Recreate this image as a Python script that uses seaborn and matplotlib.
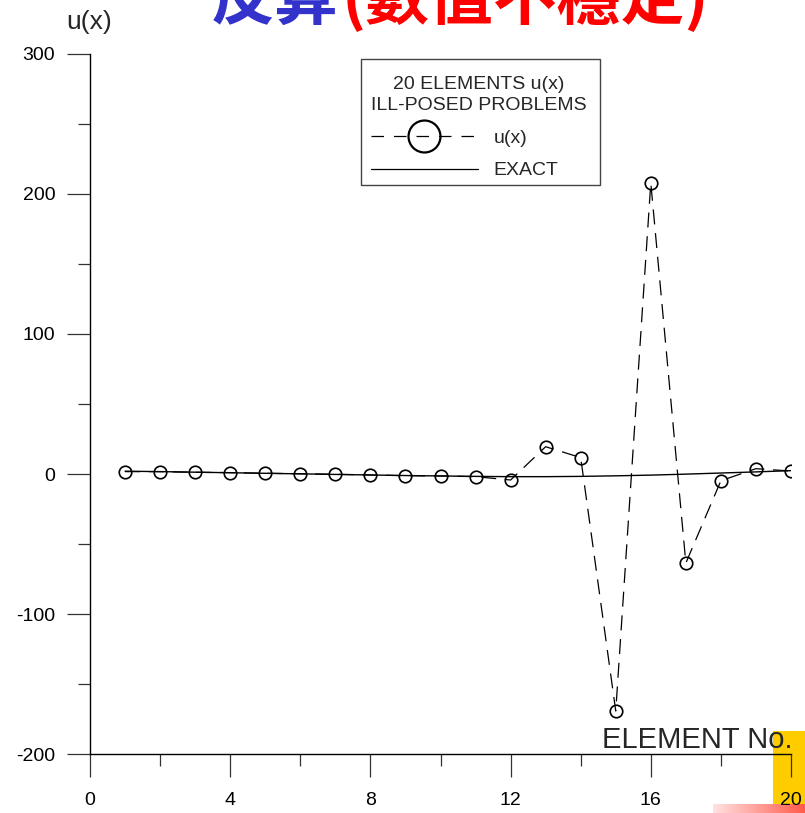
import numpy as np
import pandas as pd
import matplotlib
matplotlib.use("Agg")
import matplotlib.pyplot as plt
import seaborn as sns
from matplotlib.lines import Line2D
from matplotlib.patches import Rectangle
from matplotlib.colors import LinearSegmentedColormap

# ---------------- data ----------------
elements = list(range(1, 21))
u_numeric = [1.7, 1.7, 1.2, 1.0, 0.5, 0.2, -0.2, -0.7, -1.2, -1.4,
             -1.9, -4.3, 19.5, 11.7, -169.3, 207.9, -63.6, -4.8, 3.8, 2.1]
u_exact = [2.0, 1.7, 1.3, 0.9, 0.5, 0.1, -0.3, -0.7, -1.1, -1.4,
           -1.7, -1.9, -1.9, -1.7, -1.3, -0.8, -0.1, 0.7, 1.5, 2.4]
x_major_ticks = [0, 4, 8, 12, 16, 20]
y_major_ticks = [-200, -100, 0, 100, 200, 300]
title_blue = "反算"
title_red = "(數值不穩定)"
legend_title = "20 ELEMENTS u(x)\nILL-POSED PROBLEMS"
legend_labels = ["u(x)", "EXACT"]
x_label = "ELEMENT No."
y_label = "u(x)"

df = pd.DataFrame({"element": elements, "u": u_numeric, "exact": u_exact})

# ---------------- style ----------------
sns.set_style("ticks")
plt.rcParams["font.family"] = ["Liberation Sans", "Noto Sans CJK TC", "DejaVu Sans"]
plt.rcParams["axes.unicode_minus"] = False

W, H = 805, 813
fig = plt.figure(figsize=(W / 100, H / 100), dpi=100)
fig.patch.set_facecolor("white")

# decorative corner patches (behind the axes)
fig.patches.append(Rectangle((773 / W, 0), (W - 773) / W, (813 - 731) / H,
                             transform=fig.transFigure, facecolor="#ffcc00",
                             edgecolor="none", zorder=-2))
gax = fig.add_axes([713 / W, 0, (W - 713) / W, 9 / H], zorder=-1)
grad = np.linspace(0, 1, 256)[None, :]
cmap = LinearSegmentedColormap.from_list("pinkred", ["#ffe2e2", "#ff5a4a"])
gax.imshow(grad, aspect="auto", cmap=cmap, extent=[0, 1, 0, 1])
gax.set_axis_off()

ax = fig.add_axes([90 / W, (H - 754) / H, 701 / W, 700 / H])
ax.set_facecolor("none")
ax.set_zorder(1)

sns.lineplot(data=df, x="element", y="exact", ax=ax, color="black",
             linewidth=1.0, linestyle="-", zorder=2)
sns.lineplot(data=df, x="element", y="u", ax=ax, color="black",
             linewidth=0.9, marker="o", markersize=9, markerfacecolor="none",
             markeredgecolor="black", markeredgewidth=1.2, zorder=3)
for ln in ax.get_lines()[1:]:
    ln.set_dashes([12, 7])

ax.set_xlim(0, 20)
ax.set_ylim(-200, 300)
ax.set_xticks(x_major_ticks)
ax.set_xticks([2, 6, 10, 14, 18], minor=True)
ax.set_yticks(y_major_ticks)
ax.set_yticks([-150, -50, 50, 150, 250], minor=True)
ax.set_xlabel("")
ax.set_ylabel("")
for s in ["top", "right"]:
    ax.spines[s].set_visible(False)
for s in ["left", "bottom"]:
    ax.spines[s].set_linewidth(1.0)
    ax.spines[s].set_color("black")
ax.tick_params(which="major", direction="out", length=16.5, width=0.9,
               color="#333333", labelsize=14, labelcolor="black")
ax.tick_params(which="minor", direction="out", length=8.5, width=0.9, color="#333333")
ax.tick_params(axis="y", which="major", pad=8.5)
ax.tick_params(axis="x", which="major", pad=10.5)

# legend frame (drawn separately so padding matches the reference box)
frame = Rectangle(((361 - 90) / 701, (754 - 185) / 700), 239 / 701, 126 / 700,
                  transform=ax.transAxes, facecolor="white", edgecolor="#444444",
                  linewidth=1.0, zorder=4)
ax.add_patch(frame)

handles = [Line2D([], [], color="black", linewidth=0.9, dashes=[10, 8],
                  marker="o", markersize=23, markerfacecolor="none",
                  markeredgecolor="black", markeredgewidth=1.6),
           Line2D([], [], color="black", linewidth=0.9)]
leg = ax.legend(handles, legend_labels, title=legend_title,
                loc="upper left", bbox_to_anchor=((371 - 90) / 701, (754 - 76) / 700),
                borderaxespad=0, borderpad=0, frameon=False, alignment="left",
                fontsize=14, title_fontsize=14,
                handlelength=5.5, handletextpad=0.8, labelspacing=0.78,
                markerscale=1.0)
leg.set_zorder(5)
leg.get_title().set_multialignment("center")
leg.get_title().set_linespacing(1.3)

# axis labels as free text
fig.text(89.5 / W, 1 - 22 / H, y_label, ha="center", va="center", fontsize=19)
fig.text(792 / W, 1 - 748 / H, x_label, ha="right", va="baseline", fontsize=21)

# cropped title (cut off at the top edge as in the reference)
tb = fig.text(338 / W, 1 - 33 / H, title_blue, ha="right", va="bottom",
              fontsize=46, fontweight="bold", color="#3333cc",
              family=["Noto Sans CJK TC", "DejaVu Sans"])
tr = fig.text(342 / W, 1 - 33 / H, title_red, ha="left", va="bottom",
              fontsize=46, fontweight="bold", color="#ff0000",
              family=["Noto Sans CJK TC", "DejaVu Sans"])

fig.savefig("out.png", dpi=100)
